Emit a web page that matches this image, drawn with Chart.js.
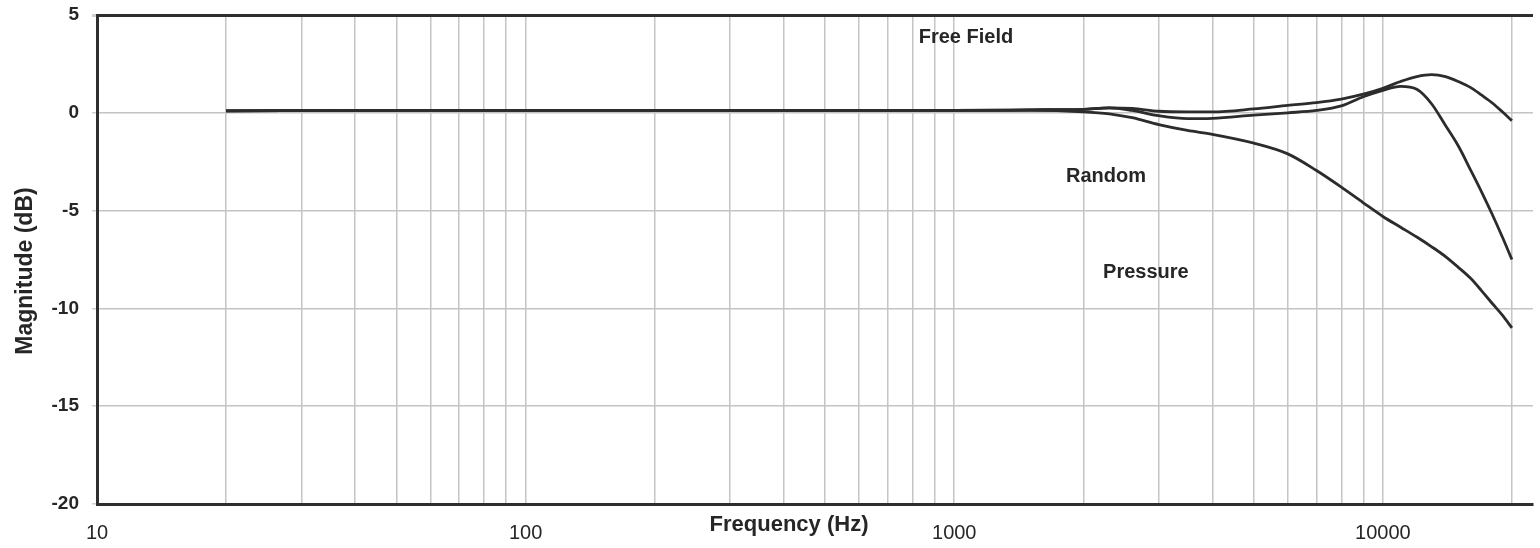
<!DOCTYPE html>
<html>
<head>
<meta charset="utf-8">
<title>Microphone response</title>
<script src="https://cdn.jsdelivr.net/npm/chart.js@4.4.1/dist/chart.umd.min.js"></script>
<style>
  html, body { margin: 0; padding: 0; background: #fff; }
  #wrap { width: 1540px; height: 548px; }
</style>
</head>
<body>
<div id="wrap"><canvas id="resp" width="1540" height="548"></canvas></div>
<script>
// Frequency response of the three sound-field curves (dB vs Hz, log axis).
const freqs = [20, 50, 100, 200, 500, 1000, 1500, 2000, 2300, 2600, 3000, 3500, 4000, 5000,
  6000, 7000, 8000, 9000, 10000, 11000, 12000, 13000, 14000, 15000, 16000, 17000, 18000, 19000, 20000];

const freeField = [0.1, 0.12, 0.12, 0.12, 0.12, 0.12, 0.15, 0.18, 0.25, 0.22, 0.08, 0.05, 0.05, 0.2,
  0.38, 0.52, 0.7, 0.95, 1.25, 1.6, 1.85, 1.95, 1.85, 1.6, 1.3, 0.9, 0.5, 0.05, -0.4];

const random = [0.1, 0.12, 0.12, 0.12, 0.12, 0.12, 0.15, 0.18, 0.25, 0.12, -0.15, -0.3, -0.28, -0.12,
  0.0, 0.12, 0.35, 0.82, 1.15, 1.35, 1.2, 0.45, -0.65, -1.7, -2.9, -4.05, -5.2, -6.35, -7.5];

const pressure = [0.1, 0.12, 0.12, 0.12, 0.12, 0.12, 0.12, 0.05, -0.05, -0.25, -0.6, -0.9, -1.1, -1.55,
  -2.1, -2.95, -3.8, -4.6, -5.3, -5.85, -6.35, -6.85, -7.35, -7.9, -8.45, -9.1, -9.75, -10.35, -11.0];

const decadeLabels = ['10', '100', '1000', '10000'];
const dbTicks = [5, 0, -5, -10, -15, -20];

// curve names, anchored in data space (Hz, dB at text baseline)
const curveNames = ['Free Field', 'Random', 'Pressure'];
const nameFreq = [1065, 2260, 2800];
const nameDb = [3.57, -3.54, -8.45];

const FONT = '"Liberation Sans", Arial, Helvetica, sans-serif';
const INK = '#262626';

// 10,20..90,100,200..,20000 for the vertical grid
const gridFreqs = [];
[10, 100, 1000, 10000].forEach((d) => {
  for (let m = 1; m <= 9; m++) {
    if (d * m <= 20000) gridFreqs.push(d * m);
  }
});

const toPoints = (ys) => freqs.map((f, i) => ({ x: f, y: ys[i] }));

const textPlugin = {
  id: 'respText',
  afterDraw(chart) {
    const { ctx, scales: { x, y } } = chart;
    ctx.save();
    ctx.fillStyle = INK;
    ctx.textBaseline = 'alphabetic';
    ctx.textAlign = 'center';

    ctx.font = 'bold 20px ' + FONT;
    curveNames.forEach((name, i) => {
      ctx.fillText(name, x.getPixelForValue(nameFreq[i]), y.getPixelForValue(nameDb[i]));
    });

    ctx.font = 'bold 22px ' + FONT;
    ctx.fillText('Frequency (Hz)', 789, 531);

    ctx.translate(32, 271);
    ctx.rotate(-Math.PI / 2);
    ctx.font = 'bold 23px ' + FONT;
    ctx.fillText('Magnitude (dB)', 0, 0);
    ctx.restore();
  },
};

const lineStyle = {
  borderColor: '#2c2c2c',
  borderWidth: 2.8,
  pointRadius: 0,
  fill: false,
  cubicInterpolationMode: 'monotone',
};

new Chart(document.getElementById('resp'), {
  type: 'line',
  data: {
    datasets: [
      { label: 'Free Field', data: toPoints(freeField), ...lineStyle },
      { label: 'Random', data: toPoints(random), ...lineStyle },
      { label: 'Pressure', data: toPoints(pressure), ...lineStyle },
    ],
  },
  options: {
    responsive: false,
    animation: false,
    devicePixelRatio: 1,
    layout: { padding: { top: 15, right: 7, left: 0, bottom: 0 } },
    plugins: { legend: { display: false }, tooltip: { enabled: false } },
    scales: {
      x: {
        type: 'logarithmic',
        min: 10,
        max: 22400,
        afterFit: (s) => { s.height = 44; s.paddingLeft = 0; s.paddingRight = 0; },
        afterBuildTicks: (s) => { s.ticks = gridFreqs.map((v) => ({ value: v })); },
        grid: { color: '#c4c4c4', lineWidth: 1.5, drawTicks: false },
        border: { color: '#2e2e2e', width: 3 },
        ticks: {
          autoSkip: false,
          maxRotation: 0,
          padding: 17,
          color: INK,
          font: { family: FONT, size: 20 },
          callback: (v) => (decadeLabels.includes(String(v)) ? String(v) : ''),
        },
      },
      y: {
        min: -20,
        max: 5,
        afterFit: (s) => { s.width = 97; s.paddingTop = 0; s.paddingBottom = 0; },
        afterBuildTicks: (s) => { s.ticks = dbTicks.map((v) => ({ value: v })); },
        grid: {
          color: (c) => (c.tick && c.tick.value === 5 ? '#2e2e2e' : '#c4c4c4'),
          lineWidth: (c) => (c.tick && c.tick.value === 5 ? 3 : 1.5),
          tickLength: 5,
          tickColor: '#cfcfcf',
        },
        border: { color: '#2e2e2e', width: 3 },
        ticks: {
          padding: 13,
          color: INK,
          font: { family: FONT, size: 19, weight: 'bold' },
        },
      },
    },
  },
  plugins: [textPlugin],
});
</script>
</body>
</html>
